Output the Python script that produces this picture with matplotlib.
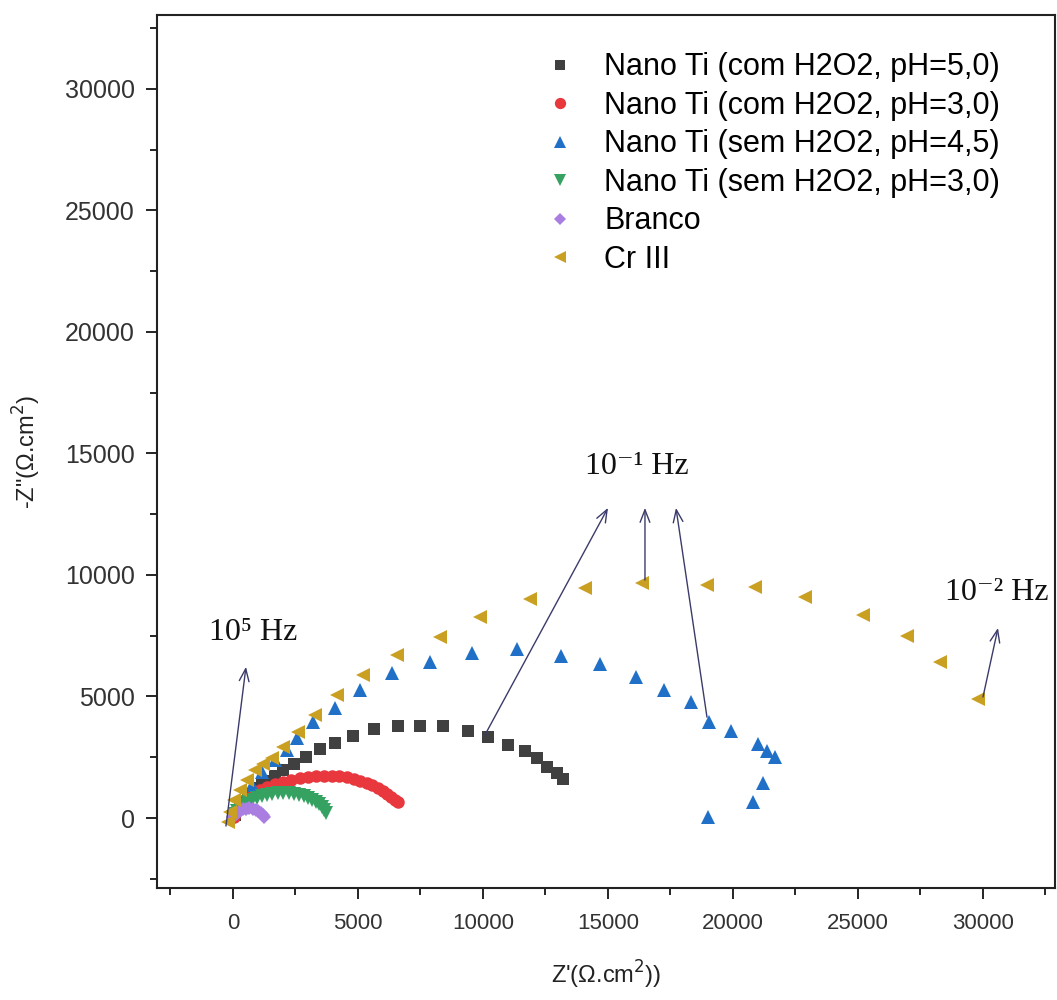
import matplotlib
matplotlib.use('Agg')
import matplotlib.pyplot as plt
from matplotlib.ticker import MultipleLocator

plt.rcParams['font.family'] = ['Liberation Sans', 'DejaVu Sans']

# Nyquist data: Z' and -Z'' in ohm.cm2
ti_h2o2_ph5_x = [80, 280, 600, 920, 1160, 1360, 1680, 2000, 2440, 2920, 3480, 4080, 4800,
                 5640, 6600, 7480, 8400, 9400, 10200, 11000, 11680, 12160, 12560, 12960, 13200]
ti_h2o2_ph5_y = [120, 530, 950, 1230, 1420, 1520, 1730, 1975, 2220, 2510, 2840, 3090, 3370,
                 3660, 3790, 3790, 3790, 3580, 3330, 3000, 2760, 2470, 2100, 1850, 1600]

ti_h2o2_ph3_x = [30, 120, 250, 420, 620, 850, 1100, 1380, 1680, 2000, 2330, 2670, 3000, 3330,
                 3650, 3960, 4260, 4550, 4830, 5100, 5350, 5580, 5800, 6000, 6180, 6340, 6480, 6600]
ti_h2o2_ph3_y = [60, 250, 450, 640, 820, 990, 1140, 1280, 1400, 1500, 1580, 1640, 1690, 1720,
                 1730, 1730, 1710, 1670, 1610, 1540, 1450, 1350, 1240, 1120, 1000, 880, 760, 640]

ti_ph45_x = [280, 760, 1160, 1680, 2160, 2560, 3200, 4080, 5080, 6360, 7880, 9560, 11360, 13120,
             14680, 16120, 17240, 18320, 19040, 19920, 21000, 21360, 21680, 21200, 20800, 19000]
ti_ph45_y = [740, 1360, 1890, 2390, 2800, 3290, 3950, 4530, 5270, 5970, 6420, 6790, 6950, 6670,
             6340, 5800, 5270, 4770, 3950, 3580, 3050, 2760, 2510, 1440, 660, 40]

ti_ph3_x = [20, 80, 170, 290, 430, 590, 770, 960, 1160, 1370, 1580, 1800, 2020, 2240, 2450,
            2650, 2840, 3010, 3170, 3310, 3440, 3550, 3650, 3740]
ti_ph3_y = [40, 160, 290, 420, 540, 650, 750, 830, 900, 950, 990, 1010, 1020, 1010, 990,
            950, 900, 830, 750, 660, 560, 450, 330, 210]

branco_x = [20, 80, 170, 280, 400, 530, 660, 790, 910, 1020, 1120, 1200, 1260]
branco_y = [30, 120, 210, 290, 350, 390, 400, 380, 340, 280, 200, 120, 40]

cr3_x = [-200, -120, 40, 280, 560, 880, 1200, 1560, 2000, 2600, 3280, 4160, 5200, 6560, 8280,
         9880, 11880, 14080, 16360, 18960, 20880, 22880, 25200, 26960, 28280, 29800]
cr3_y = [-160, 250, 740, 1150, 1560, 1975, 2220, 2470, 2920, 3540, 4240, 5060, 5880, 6710, 7450,
         8270, 9010, 9460, 9670, 9590, 9510, 9090, 8350, 7490, 6420, 4900]

series_labels = ['Nano Ti (com H2O2, pH=5,0)', 'Nano Ti (com H2O2, pH=3,0)',
                 'Nano Ti (sem H2O2, pH=4,5)', 'Nano Ti (sem H2O2, pH=3,0)',
                 'Branco', 'Cr III']

# frequency annotations: text, text position, arrows (start -> tip)
freq_labels = ['10\u2075 Hz', '10\u207b\u00b9 Hz', '10\u207b\u00b2 Hz']
freq_label_pos = [(800, 7650), (16160, 14480), (30560, 9260)]
arrow_starts = [(-280, -330), (10080, 3420), (16480, 9790), (18960, 4150), (30000, 4980)]
arrow_tips = [(520, 6220), (15000, 12760), (16480, 12760), (17720, 12760), (30600, 7820)]

fig = plt.figure(figsize=(10.57, 10), dpi=100)
ax = fig.add_axes([0.1485, 0.112, 0.8496, 0.873])

series = [
    (ti_h2o2_ph5_x, ti_h2o2_ph5_y, 's', '#404040', 8),
    (ti_h2o2_ph3_x, ti_h2o2_ph3_y, 'o', '#e8383d', 9),
    (ti_ph45_x, ti_ph45_y, '^', '#2070c8', 9.5),
    (ti_ph3_x, ti_ph3_y, 'v', '#35a262', 9.5),
    (branco_x, branco_y, 'D', '#a97ee0', 7),
    (cr3_x, cr3_y, '<', '#c9a021', 9.5),
]
for (xs, ys, mk, col, ms), lab in zip(series, series_labels):
    ax.plot(xs, ys, linestyle='none', marker=mk, color=col, markersize=ms,
            markeredgewidth=0, label=lab)

arrow_col = '#3b3b6b'
for s, t in zip(arrow_starts, arrow_tips):
    ax.annotate('', xy=t, xytext=s,
                arrowprops=dict(arrowstyle='->,head_length=0.9,head_width=0.35',
                                color=arrow_col, lw=1.0, shrinkA=0, shrinkB=0))
for txt, pos in zip(freq_labels, freq_label_pos):
    ax.text(pos[0], pos[1], txt, ha='center', va='center', fontsize=23,
            family=['Liberation Serif', 'DejaVu Serif'], color='#111111')

ax.set_xlim(-3040, 32880)
ax.set_ylim(-2880, 33040)
ax.xaxis.set_major_locator(MultipleLocator(5000))
ax.xaxis.set_minor_locator(MultipleLocator(2500))
ax.yaxis.set_major_locator(MultipleLocator(5000))
ax.yaxis.set_minor_locator(MultipleLocator(2500))
ax.tick_params(which='major', direction='out', length=8, width=1.2,
               labelcolor='#333333', pad=8)
ax.tick_params(axis='x', which='major', labelsize=16, pad=10)
ax.tick_params(axis='y', which='major', labelsize=18)
ax.tick_params(which='minor', direction='out', length=5, width=1.2)
for sp in ax.spines.values():
    sp.set_linewidth(1.5)
    sp.set_color('#222222')

ax.set_xlabel("Z'(\u03a9.cm$^2$))", fontsize=17, color='#222222', labelpad=18)
ax.set_ylabel('-Z"(\u03a9.cm$^2$)', fontsize=17, color='#222222', labelpad=16)

ax.legend(loc='upper left', bbox_to_anchor=(0.505, 0.96), bbox_transform=fig.transFigure,
          frameon=False, fontsize=22, handlelength=0.9, handletextpad=1.0,
          labelspacing=0.28, markerscale=0.9, borderaxespad=0)

fig.savefig('out.png', dpi=100)
